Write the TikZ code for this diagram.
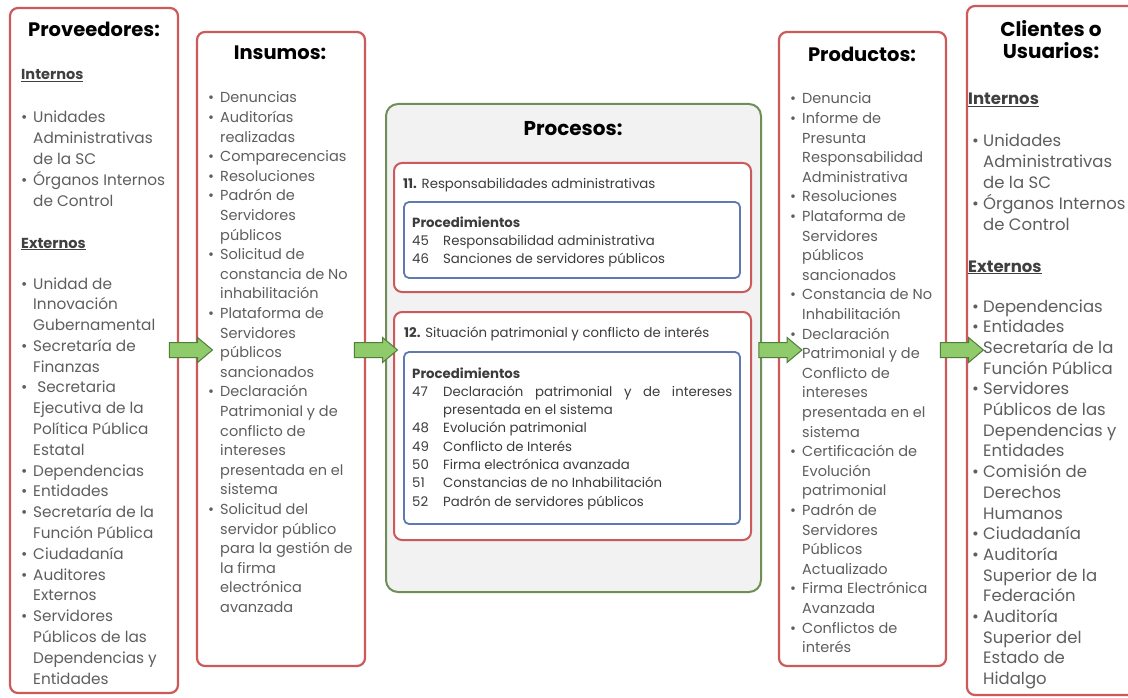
\documentclass[tikz,border=0pt]{standalone}
\usepackage{fontspec}
\setmainfont{Poppins}
\usetikzlibrary{shapes.arrows}
\definecolor{boxred}{HTML}{CC5A5A}
\definecolor{procgreen}{HTML}{6E8F58}
\definecolor{procfill}{HTML}{F2F2F2}
\definecolor{innblue}{HTML}{6079B3}
\definecolor{arrfill}{HTML}{8FCB6B}
\definecolor{arrdraw}{HTML}{4F7D3A}
\definecolor{txtgray}{HTML}{5E5E5E}
\definecolor{hdrgray}{HTML}{404040}
\definecolor{prctext}{HTML}{3C3C3C}
\tikzset{
  colbox/.style={draw=boxred, line width=2.2pt, rounded corners=8pt, fill=white, inner sep=0pt},
  procbox/.style={draw=procgreen, line width=2pt, rounded corners=12pt, fill=procfill, inner sep=0pt},
  subbox/.style={draw=boxred, line width=2pt, rounded corners=8pt, fill=white, inner sep=0pt},
  innbox/.style={draw=innblue, line width=1.8pt, rounded corners=5pt, fill=white, inner sep=0pt},
  garrow/.style={single arrow, draw=arrdraw, fill=arrfill, line width=1pt, minimum height=43pt,
    minimum width=24pt, single arrow head extend=5pt, inner sep=7pt, single arrow tip angle=80},
  ttl/.style={font=\fontsize{19.5}{22}\selectfont\bfseries, text=black, inner sep=0pt, anchor=base, align=center},
  hdr/.style={font=\fontsize{14.5}{16}\selectfont\bfseries, text=hdrgray, inner sep=0pt, anchor=base west},
  hdrC/.style={hdr, font=\fontsize{16.5}{18}\selectfont\bfseries},
  lstA/.style={font=\fontsize{15.3}{20.8}\selectfont, text=txtgray, inner sep=0pt, anchor=base west},
  lstB/.style={font=\fontsize{14.5}{19.6}\selectfont, text=txtgray, inner sep=0pt, anchor=base west},
  lstC/.style={font=\fontsize{16.5}{20.7}\selectfont, text=txtgray, inner sep=0pt, anchor=base west},
  phdr/.style={font=\fontsize{13.3}{16}\selectfont, text=prctext, inner sep=0pt, anchor=base west},
  plst/.style={font=\fontsize{13.3}{18.3}\selectfont, text=prctext, inner sep=0pt, anchor=base west},
}
\newcommand\bul{\textbullet}
\begin{document}
\begin{tikzpicture}[x=1pt,y=-1pt]
\useasboundingbox (0,0) rectangle (1128,698);
\clip (0,0) rectangle (1128,698);
\fill[white] (0,0) rectangle (1128,698);

% column boxes
\node[colbox, minimum width=168pt, minimum height=685pt] (prov) at (94,350.5) {};
\node[colbox, minimum width=168pt, minimum height=634pt] (ins) at (281,349) {};
\node[procbox, minimum width=375pt, minimum height=488pt] (proc) at (573.5,348) {};
\node[subbox, minimum width=357pt, minimum height=129pt] (p11) at (572.5,227.5) {};
\node[innbox, minimum width=336pt, minimum height=76pt] (i11) at (572,240) {};
\node[subbox, minimum width=357pt, minimum height=228pt] (p12) at (572.5,426) {};
\node[innbox, minimum width=336pt, minimum height=172pt] (i12) at (572,438) {};
\node[colbox, minimum width=167pt, minimum height=634pt] (prod) at (862.5,349) {};
\node[colbox, minimum width=176pt, minimum height=689pt] (cli) at (1055,350.5) {};

% Proveedores
\node[ttl] (tprov) at (94,37) {Proveedores:};
\node[hdr] (provint) at (21,80) {\underline{Internos}};
\node[lstA] (provl1) at (21,123) {\begin{tabular}[t]{@{}p{12pt}@{}l@{}}
\bul & Unidades\\
 & Administrativas\\
 & de la SC\\
\bul & Órganos Internos\\
 & de Control
\end{tabular}};
\node[hdr] (provext) at (21,248) {\underline{Externos}};
\node[lstA] (provl2) at (21,289) {\begin{tabular}[t]{@{}p{12pt}@{}l@{}}
\bul & Unidad de\\
 & Innovación\\
 & Gubernamental\\
\bul & Secretaría de\\
 & Finanzas\\
\bul & \ Secretaria\\
 & Ejecutiva de la\\
 & Política Pública\\
 & Estatal\\
\bul & Dependencias\\
\bul & Entidades\\
\bul & Secretaría de la\\
 & Función Pública\\
\bul & Ciudadanía\\
\bul & Auditores\\
 & Externos\\
\bul & Servidores\\
 & Públicos de las\\
 & Dependencias y\\
 & Entidades
\end{tabular}};

% Insumos
\node[ttl] (tins) at (280,60) {Insumos:};
\node[lstB] (insl) at (208,103) {\begin{tabular}[t]{@{}p{12pt}@{}l@{}}
\bul & Denuncias\\
\bul & Auditorías\\
 & realizadas\\
\bul & Comparecencias\\
\bul & Resoluciones\\
\bul & Padrón de\\
 & Servidores\\
 & públicos\\
\bul & Solicitud de\\
 & constancia de No\\
 & inhabilitación\\
\bul & Plataforma de\\
 & Servidores\\
 & públicos\\
 & sancionados\\
\bul & Declaración\\
 & Patrimonial y de\\
 & conflicto de\\
 & intereses\\
 & presentada en el\\
 & sistema\\
\bul & Solicitud del\\
 & servidor público\\
 & para la gestión de\\
 & la firma\\
 & electrónica\\
 & avanzada
\end{tabular}};

% Procesos
\node[ttl, font=\fontsize{20}{22}\selectfont\bfseries] (tproc) at (573,136) {Procesos:};
\node[phdr] (h11) at (403,189) {\textbf{11.} Responsabilidades administrativas};
\node[plst] (l11) at (412,227) {\begin{tabular}[t]{@{}p{31pt}@{}l@{}}
\multicolumn{2}{@{}l@{}}{\bfseries Procedimientos}\\
45 & Responsabilidad administrativa\\
46 & Sanciones de servidores públicos
\end{tabular}};
\node[phdr] (h12) at (404,337) {\textbf{12.} Situación patrimonial y conflicto de interés};
\node[plst] (l12) at (412,378) {\begin{tabular}[t]{@{}p{31pt}@{}l@{}}
\multicolumn{2}{@{}l@{}}{\bfseries Procedimientos}\\
47 & \makebox[289pt][s]{Declaración patrimonial y de intereses}\\
 & presentada en el sistema\\
48 & Evolución patrimonial\\
49 & Conflicto de Interés\\
50 & Firma electrónica avanzada\\
51 & Constancias de no Inhabilitación\\
52 & Padrón de servidores públicos
\end{tabular}};

% Productos
\node[ttl] (tprod) at (862,62) {Productos:};
\node[lstB] (prodl) at (790,104) {\begin{tabular}[t]{@{}p{12pt}@{}l@{}}
\bul & Denuncia\\
\bul & Informe de\\
 & Presunta\\
 & Responsabilidad\\
 & Administrativa\\
\bul & Resoluciones\\
\bul & Plataforma de\\
 & Servidores\\
 & públicos\\
 & sancionados\\
\bul & Constancia de No\\
 & Inhabilitación\\
\bul & Declaración\\
 & Patrimonial y de\\
 & Conflicto de\\
 & intereses\\
 & presentada en el\\
 & sistema\\
\bul & Certificación de\\
 & Evolución\\
 & patrimonial\\
\bul & Padrón de\\
 & Servidores\\
 & Públicos\\
 & Actualizado\\
\bul & Firma Electrónica\\
 & Avanzada\\
\bul & Conflictos de\\
 & interés
\end{tabular}};

% Clientes
\node[ttl, font=\fontsize{20}{22}\selectfont\bfseries] (tcli) at (1051,59) {Clientes o\\Usuarios:};
\node[hdrC] (cliint) at (968,105) {\underline{Internos}};
\node[lstC] (clil1) at (972,147) {\begin{tabular}[t]{@{}p{11pt}@{}l@{}}
\bul & Unidades\\
 & Administrativas\\
 & de la SC\\
\bul & Órganos Internos\\
 & de Control
\end{tabular}};
\node[hdrC] (cliext) at (968,272) {\underline{Externos}};
\node[lstC] (clil2) at (972,312) {\begin{tabular}[t]{@{}p{11pt}@{}l@{}}
\bul & Dependencias\\
\bul & Entidades\\
\bul & Secretaría de la\\
 & Función Pública\\
\bul & Servidores\\
 & Públicos de las\\
 & Dependencias y\\
 & Entidades\\
\bul & Comisión de\\
 & Derechos\\
 & Humanos\\
\bul & Ciudadanía\\
\bul & Auditoría\\
 & Superior de la\\
 & Federación\\
\bul & Auditoría\\
 & Superior del\\
 & Estado de\\
 & Hidalgo
\end{tabular}};

% flow arrows
\node[garrow] (a1) at (186.5,350) {};
\node[garrow] (a2) at (371.5,350) {};
\node[garrow] (a3) at (776,350) {};
\node[garrow] (a4) at (957.5,350) {};
\end{tikzpicture}
\end{document}
